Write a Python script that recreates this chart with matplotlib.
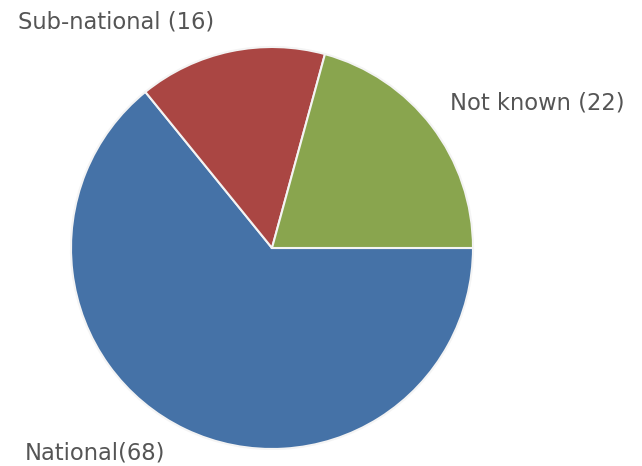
import matplotlib
matplotlib.use("Agg")
import matplotlib.pyplot as plt

labels = ["National(68)", "Sub-national (16)", "Not known (22)"]
values = [68, 16, 22]
colors = ["#4572A7", "#AA4643", "#89A54E"]

W, H = 642, 466
fig = plt.figure(figsize=(W / 100, H / 100), dpi=100)

# pie centre ~ (272, 248) px, radius ~ 201 px
cx, cy, r = 272, 248, 201
ax = fig.add_axes([(cx - r) / W, (H - cy - r) / H, 2 * r / W, 2 * r / H])
ax.pie(values, colors=colors, startangle=0, counterclock=False,
       wedgeprops=dict(edgecolor="#f4f4f4", linewidth=1.5))
ax.set_xlim(-1, 1)
ax.set_ylim(-1, 1)
ax.set_aspect("equal")
ax.axis("off")

# label positions in pixels (left x, centre y)
label_pos = [(25, 453), (18, 22), (450, 103)]
for text, (x, y) in zip(labels, label_pos):
    fig.text(x / W, 1 - y / H, text, ha="left", va="center",
             fontsize=16.3, color="#555555", family="DejaVu Sans")

fig.savefig("out.png", dpi=100, facecolor="white")
